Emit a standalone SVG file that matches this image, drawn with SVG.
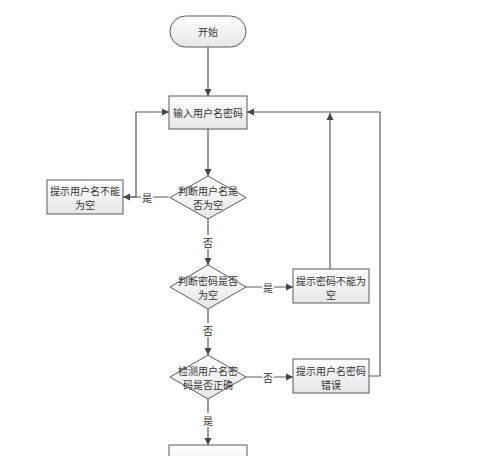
<svg xmlns="http://www.w3.org/2000/svg" width="500" height="456" viewBox="0 0 500 456">
<style>
.box{fill:url(#g);stroke:#5a5a5a;stroke-width:1}
.t{font-family:"Noto Sans CJK SC","Noto Sans",sans-serif;font-size:10px;fill:#333;text-anchor:middle;dominant-baseline:central}
.c{fill:none;stroke:#5a5a5a;stroke-width:1.2}
.lb{fill:#fff}
</style>
<defs>
<linearGradient id="g" x1="0" y1="0" x2="0" y2="1">
<stop offset="0" stop-color="#ffffff"/>
<stop offset="1" stop-color="#e6e6e6"/>
</linearGradient>
<marker id="a" markerWidth="8" markerHeight="8" refX="7" refY="4" orient="auto" markerUnits="userSpaceOnUse">
<path d="M0,0.5 L7,4 L0,7.5 Z" fill="#444"/>
</marker>
</defs>
<rect width="500" height="456" fill="#fff"/>
<g id="connectors">
<path class="c" d="M208,47 V96" marker-end="url(#a)"/>
<path class="c" d="M208,129 V176" marker-end="url(#a)"/>
<path class="c" d="M169,197 H123" marker-end="url(#a)"/>
<path class="c" d="M123,197 H136 V112 H169" marker-end="url(#a)"/>
<path class="c" d="M208,219 V265" marker-end="url(#a)"/>
<path class="c" d="M246,287 H293" marker-end="url(#a)"/>
<path class="c" d="M330,269 V113" marker-end="url(#a)"/>
<path class="c" d="M208,309 V355" marker-end="url(#a)"/>
<path class="c" d="M246,377 H293" marker-end="url(#a)"/>
<path class="c" d="M369,376 H380 V112 H247" marker-end="url(#a)"/>
<path class="c" d="M208,399 V445" marker-end="url(#a)"/>
<rect class="lb" x="141" y="190" width="12" height="14"/>
<text class="t" x="147" y="197">是</text>
<rect class="lb" x="202" y="235" width="12" height="14"/>
<text class="t" x="208" y="242">否</text>
<rect class="lb" x="262" y="280" width="12" height="14"/>
<text class="t" x="268" y="287">是</text>
<rect class="lb" x="202" y="323" width="12" height="14"/>
<text class="t" x="208" y="330">否</text>
<rect class="lb" x="262" y="370" width="12" height="14"/>
<text class="t" x="268" y="377">否</text>
<rect class="lb" x="202" y="413" width="12" height="14"/>
<text class="t" x="208" y="420">是</text>
</g>
<g id="start">
<rect class="box" x="170" y="16" width="76" height="31" rx="15.5" ry="15.5"/>
<text class="t" x="208" y="31.5">开始</text>
</g>
<g id="input">
<rect class="box" x="169" y="96" width="78" height="33"/>
<text class="t" x="208" y="112.5">输入用户名密码</text>
</g>
<g id="check-user-empty">
<path class="box" d="M208,176 L246,197.5 L208,219 L170,197.5 Z"/>
<text class="t" x="208" y="190">判断用户名是</text>
<text class="t" x="208" y="204">否为空</text>
</g>
<g id="user-empty-msg">
<rect class="box" x="47" y="180" width="76" height="34"/>
<text class="t" x="85" y="190">提示用户名不能</text>
<text class="t" x="85" y="204">为空</text>
</g>
<g id="check-pwd-empty">
<path class="box" d="M208,265 L246,287 L208,309 L170,287 Z"/>
<text class="t" x="208" y="280">判断密码是否</text>
<text class="t" x="208" y="294">为空</text>
</g>
<g id="pwd-empty-msg">
<rect class="box" x="293" y="269" width="76" height="34"/>
<text class="t" x="331" y="280">提示密码不能为</text>
<text class="t" x="331" y="294">空</text>
</g>
<g id="check-correct">
<path class="box" d="M208,355 L246,377 L208,399 L170,377 Z"/>
<text class="t" x="208" y="370">检测用户名密</text>
<text class="t" x="208" y="384">码是否正确</text>
</g>
<g id="error-msg">
<rect class="box" x="293" y="359" width="76" height="34"/>
<text class="t" x="331" y="370">提示用户名密码</text>
<text class="t" x="331" y="384">错误</text>
</g>
<g id="next">
<rect class="box" x="169" y="445" width="78" height="30"/>
</g>
</svg>
